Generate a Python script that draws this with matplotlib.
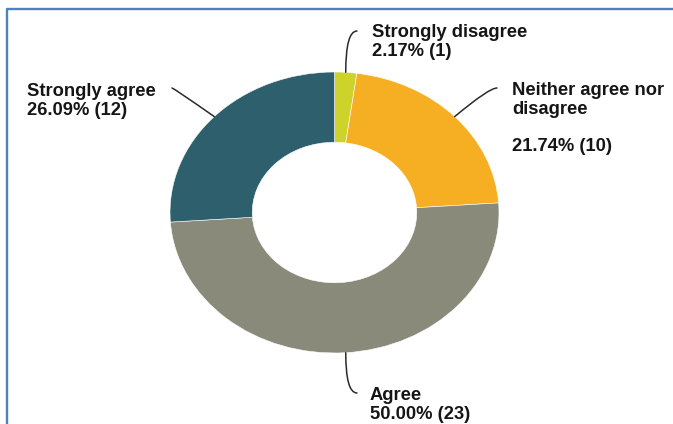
import numpy as np
import matplotlib
matplotlib.use("Agg")
import matplotlib.pyplot as plt
from matplotlib.lines import Line2D

# Survey answers, clockwise from 12 o'clock
labels = ["Strongly disagree", "Neither agree nor\ndisagree", "Agree", "Strongly agree"]
counts = [1, 10, 23, 12]
colors = ["#CDD32B", "#F6AF22", "#898A79", "#2E5F6D"]

# where each label block starts (figure pixels, measured from the top-left)
label_pos = [(372, 24), (512, 82), (370, 387), (27, 83)]
# end of the leader line next to each label, and the angle it leaves the ring at
leader_end = [(357, 31), (497, 88), (357, 393), (172, 88)]
leader_angle = [90, 40, 90, 145]

W, H = 673, 424
total = sum(counts)

plt.rcParams["font.family"] = ["Liberation Sans", "DejaVu Sans"]

fig = plt.figure(figsize=(W / 100, H / 100), dpi=100)
ax = fig.add_axes([0, 0, 1, 1])

wedges, _ = ax.pie(counts, colors=colors, startangle=90, counterclock=False,
                   radius=1.0,
                   wedgeprops=dict(width=0.5, edgecolor="white", linewidth=0.4))

# stretch the ring a bit wider than tall
cx, cy = 334.5, H - 212.5
rx, ry = 164.5, 140.5
ax.set_aspect("auto")
ax.set_xlim(-cx / rx, (W - cx) / rx)
ax.set_ylim(-cy / ry, (H - cy) / ry)
ax.axis("off")

for w, name, n, (tx, ty), (ex, ey), ang in zip(wedges, labels, counts, label_pos,
                                                leader_end, leader_angle):
    mid = np.deg2rad((w.theta1 + w.theta2) / 2)
    x, y = np.cos(mid), np.sin(mid)
    gap = "\n" if "\n" in name else ""
    txt = f"{name}\n{gap}{n / total * 100:.2f}% ({n})"
    fig.text(tx / W, 1 - ty / H, txt, ha="left", va="top", fontsize=13.2,
             fontweight="bold", color="#151515", linespacing=1.12)
    ax.annotate("", xy=(x, y), xycoords="data",
                xytext=(ex / W, 1 - ey / H), textcoords="figure fraction",
                arrowprops=dict(arrowstyle="-", color="#2a2a2a", lw=1.1,
                                shrinkA=0, shrinkB=0,
                                connectionstyle=f"angle3,angleA=0,angleB={ang}"))

# blue frame along the top and left edge
fig.add_artist(Line2D([6.7 / W, 6.7 / W, 1], [0, 1 - 9 / H, 1 - 9 / H],
                      transform=fig.transFigure, color="#4F81BD", lw=1.7))

fig.savefig("out.png", dpi=100, facecolor="white")
